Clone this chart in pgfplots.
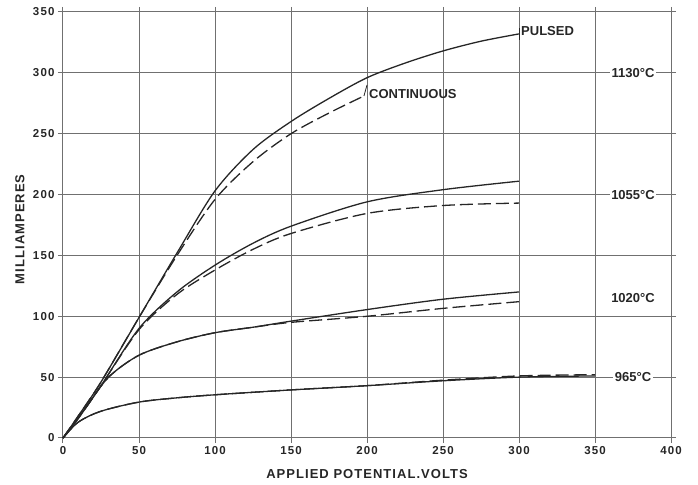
\documentclass[border=0pt]{standalone}
\usepackage{pgfplots}
\pgfplotsset{compat=1.18}
\usepackage{fontspec}
\setmainfont{Liberation Sans}
\newfontfamily\tickfont[LetterSpace=10]{Liberation Sans}
\newfontfamily\labfont[LetterSpace=8]{Liberation Sans}
\definecolor{ink}{HTML}{262626}
\definecolor{gridc}{HTML}{707070}

\begin{document}
\begin{tikzpicture}
\begin{axis}[
    name=ax,
    scale only axis,
    width=608pt, height=426pt,
    xmin=0, xmax=400, ymin=0, ymax=350,
    xtick={0,50,...,400}, ytick={0,50,...,350},
    grid=major,
    major grid style={gridc, line width=1pt},
    axis line style={gridc, line width=1pt},
    tick style={gridc, line width=1pt},
    tick align=outside, major tick length=5pt,
    /pgf/number format/assume math mode=true,
    ticklabel style={font=\tickfont\fontsize{11.5}{13}\selectfont\bfseries, text=ink},
    xlabel={APPLIED POTENTIAL.VOLTS},
    ylabel={MILLIAMPERES},
    every axis x label/.style={at={(rel axis cs:0.5,0)}, yshift=-36pt, anchor=center,
        font=\labfont\fontsize{13}{15}\selectfont\bfseries, text=ink},
    every axis y label/.style={at={(rel axis cs:0,0.49)}, xshift=-43pt, rotate=90, anchor=center,
        font=\labfont\fontsize{13}{15}\selectfont\bfseries, text=ink},
    clip=false,
]
% 1130 C pulsed
\addplot[ink, line width=1.3pt, smooth] coordinates {
 (0,0) (10,18) (25,46) (50,99) (75,152) (100,203) (125,237) (150,260)
 (175,279) (200,296) (225,308) (250,318) (275,326) (300,332)};
% 1130 C continuous
\addplot[ink, line width=1.3pt, smooth, dash pattern=on 13pt off 5pt] coordinates {
 (0,0) (10,18) (25,46) (50,99) (75,150) (100,196) (125,227) (150,250)
 (175,267) (198,281)};
% 1055 C pulsed
\addplot[ink, line width=1.3pt, smooth] coordinates {
 (0,0) (10,16) (25,43) (50,90) (75,120) (100,142) (125,160) (150,174)
 (200,194) (250,204) (300,211)};
% 1055 C continuous
\addplot[ink, line width=1.3pt, smooth, dash pattern=on 13pt off 5pt] coordinates {
 (0,0) (10,16) (25,43) (50,89) (75,118) (100,138) (125,155) (150,168)
 (200,184.5) (250,191) (300,193)};
% 1020 C pulsed
\addplot[ink, line width=1.3pt, smooth] coordinates {
 (0,0) (15,25) (30,50) (50,68) (75,79) (100,86.5)
 (125,91) (150,96) (200,105.5) (250,114) (300,120)};
% 1020 C continuous
\addplot[ink, line width=1.3pt, smooth, dash pattern=on 13pt off 5pt] coordinates {
 (0,0) (15,25) (30,50) (50,68) (75,79) (100,86.5)
 (125,91) (150,95) (200,100) (250,106.5) (300,112)};
% 965 C pulsed
\addplot[ink, line width=1.3pt, smooth] coordinates {
 (0,0) (10,13) (25,22) (50,29.5) (75,33) (100,35.5)
 (150,39.5) (200,43) (250,47) (300,50) (350,51)};
% 965 C continuous
\addplot[ink, line width=1.3pt, smooth, dash pattern=on 13pt off 5pt] coordinates {
 (0,0) (10,13) (25,22) (50,29.5) (75,33) (100,35.5)
 (150,39.5) (200,43) (250,47.5) (300,51) (350,52)};
% leaders and labels
\draw[ink, line width=0.8pt] (axis cs:300,327) -- (axis cs:300,337);
\draw[ink, line width=0.8pt] (axis cs:198,281) -- (axis cs:200,290);
\begin{scope}[every node/.style={font=\fontsize{13}{15}\selectfont\bfseries, text=ink}]
\node[anchor=west, inner sep=2pt] at (axis cs:300,334) {PULSED};
\node[anchor=west, inner sep=2pt] at (axis cs:200,283) {CONTINUOUS};
\node[fill=white, inner sep=1.5pt] at (axis cs:375,300) {1130°C};
\node[fill=white, inner sep=1.5pt] at (axis cs:375,200) {1055°C};
\node[inner sep=1.5pt] at (axis cs:375,115) {1020°C};
\node[fill=white, inner sep=1.5pt] at (axis cs:375,50) {965°C};
\end{scope}
\end{axis}
\path ([xshift=-63pt,yshift=-47pt]ax.south west) rectangle ([xshift=27pt,yshift=12pt]ax.north east);
\end{tikzpicture}
\end{document}
